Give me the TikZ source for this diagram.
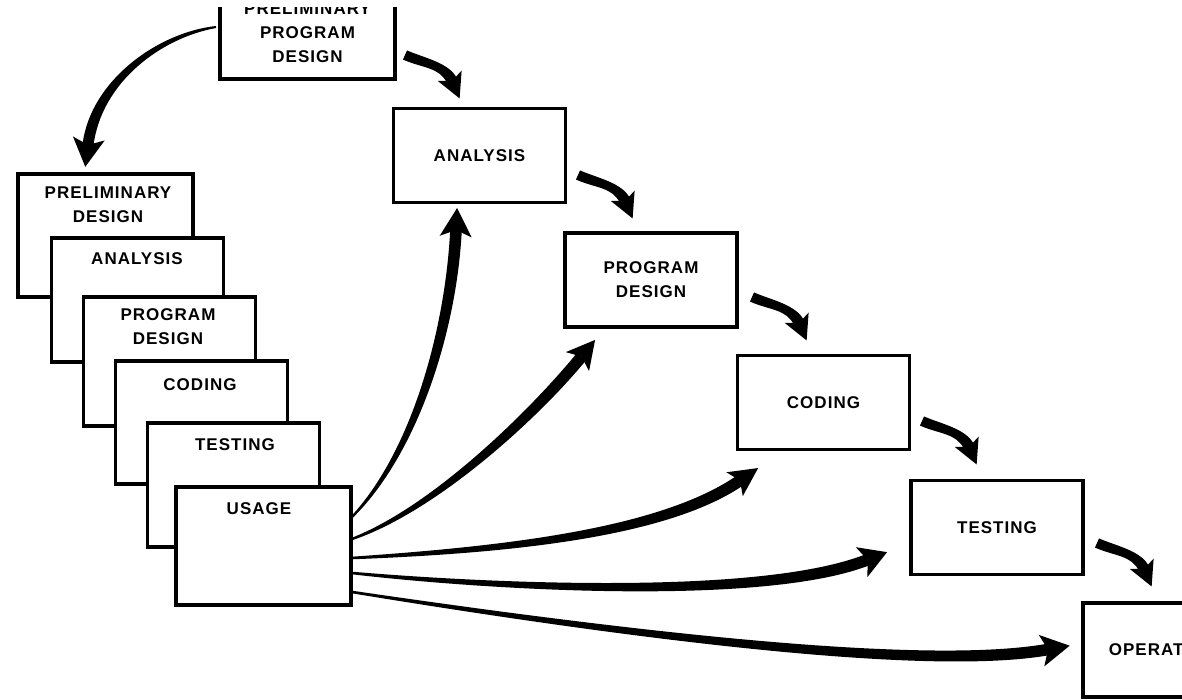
\documentclass[tikz,border=0pt]{standalone}
\usepackage{fontspec}
\newfontfamily\labfont[LetterSpace=6]{Liberation Sans}
\usetikzlibrary{calc}
\tikzset{
  box/.style={draw=black, line width=3.3pt, fill=white, rectangle, inner sep=0pt},
  lbl/.style={font=\labfont\bfseries\fontsize{17}{24}\selectfont, align=center, inner sep=0pt},
  rbox/.style={box, lbl, minimum width=172pt, minimum height=94pt},
  sbox/.style={box, minimum width=172pt, minimum height=124pt},
  arrowfill/.style={fill=black, draw=none},
}
% tapered arrow: #1 start, #2 c1, #3 c2, #4 head notch, #5 half width at start,
% #6 half width at end, #7 head half width, #8 head length
\newcommand\tarr[8]{%
  \pgfmathsetlengthmacro\tmpwm{(#5+#6)/2}%
  \pgfmathsetlengthmacro\tmphb{0.3*#8}%
  \fill[arrowfill] ($(#1)!#5!90:(#2)$) .. controls ($(#2)!\tmpwm!90:(#3)$) and ($(#3)!#6!90:(#4)$) .. ($(#4)!#6!-90:(#3)$)
    -- ($(#4)!#6!90:(#3)$) .. controls ($(#3)!#6!-90:(#4)$) and ($(#2)!\tmpwm!-90:(#3)$) .. ($(#1)!#5!-90:(#2)$) -- cycle;
  \coordinate (hbk) at ($(#4)!\tmphb!(#3)$);
  \fill[arrowfill] ($(#4)!-#8!(#3)$) -- ($(hbk)!#7!90:(#3)$) -- (#4) -- ($(hbk)!#7!-90:(#3)$) -- cycle;
}
\newcommand\shortarr[1]{%
  \begin{scope}[shift={(#1)}]
    \tarr{0,0}{18,8}{40,10}{47,26}{5pt}{5.5pt}{13pt}{19pt}
  \end{scope}}
\begin{document}
\begin{tikzpicture}[x=1pt,y=-1pt]
\useasboundingbox (0,0) rectangle (1182,700);
\clip (0,8) rectangle (1182,700);

% top box
\node[box, minimum width=175pt, minimum height=124pt] (top) at (307.5,17) {};
\node[lbl] (toptxt) at (307.5,33) {PRELIMINARY\\PROGRAM\\DESIGN};

% stacked boxes
\node[sbox, minimum width=175pt, minimum height=123pt] (s1) at (105.5,235.5) {};
\node[lbl] (s1t) at (108,204.5) {PRELIMINARY\\DESIGN};
\node[sbox] (s2) at (137.5,300) {};
\node[lbl] (s2t) at (137,259) {ANALYSIS};
\node[sbox, minimum height=129pt] (s3) at (169.5,361.5) {};
\node[lbl] (s3t) at (168,327) {PROGRAM\\DESIGN};
\node[sbox, minimum height=123pt] (s4) at (201.5,422.5) {};
\node[lbl] (s4t) at (200,385) {CODING};
\node[sbox] (s5) at (233.5,485) {};
\node[lbl] (s5t) at (235,445) {TESTING};
\node[sbox, minimum width=175pt, minimum height=118pt] (usage) at (263.5,546) {};
\node[lbl] (s6t) at (259,509) {USAGE};

% diagonal boxes
\node[rbox] (ana) at (479.5,155.5) {ANALYSIS};
\node[rbox] (pd) at (651,280) {PROGRAM\\DESIGN};
\node[rbox] (cod) at (823.5,402.5) {CODING};
\node[rbox] (tst) at (997,527.5) {TESTING};
\node[rbox] (ops) at (1169,650) {OPERATIONS};

% arrow from top box to stack
\tarr{216,27}{160,35}{96,81}{88,145}{1pt}{5.5pt}{16pt}{22pt}

% short arrows down the diagonal
\shortarr{405,55}
\shortarr{578,175}
\shortarr{752,297}
\shortarr{922,421}
\shortarr{1097,543}

% long arrows from usage
\tarr{352,517}{415,452}{451,330}{456,230}{1.1pt}{5.8pt}{16pt}{22pt}
\tarr{352,539}{437,508}{537.5,410.6}{581.5,356.6}{1.2pt}{5.8pt}{15pt}{21.5pt}
\tarr{352,558}{502,550}{662,534}{740,480.5}{1.3pt}{5.8pt}{14.5pt}{22pt}
\tarr{352,573}{502,588}{765,600}{867.5,559.8}{1.3pt}{5.8pt}{16pt}{21pt}
\tarr{352,592}{610,632}{920,672}{1048,649.5}{1.3pt}{5.8pt}{16pt}{22pt}
\end{tikzpicture}
\end{document}
